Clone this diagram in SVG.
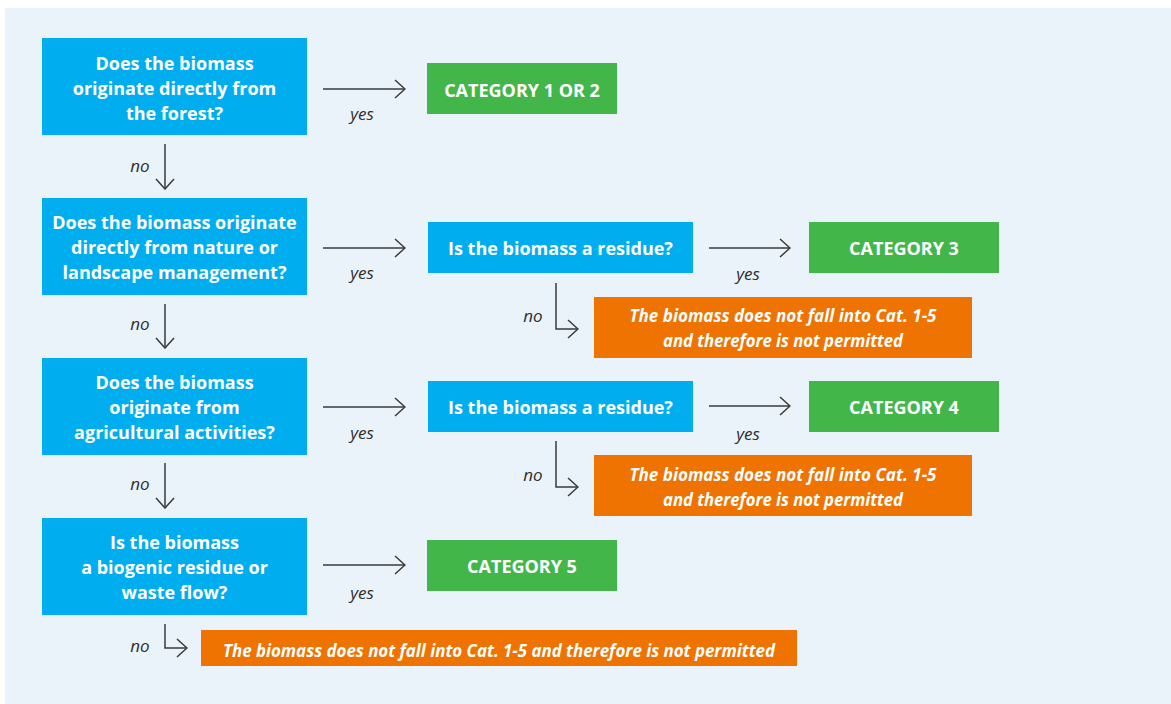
<svg xmlns="http://www.w3.org/2000/svg" width="1171" height="704" viewBox="0 0 1171 704">
<defs>
<marker id="arr" viewBox="0 0 12 20" refX="11" refY="10" markerWidth="12" markerHeight="20" markerUnits="userSpaceOnUse" orient="auto">
<path d="M1,1 L11,10 L1,19" fill="none" stroke="#3a3a3a" stroke-width="1.5"/>
</marker>
<style>
.q{fill:#00AEEF}
.g{fill:#43B649}
.o{fill:#EF7300}
.t{font-family:"Open Sans","Liberation Sans",sans-serif;font-weight:700;font-size:18px;fill:#fff;text-anchor:middle}
.ot{font-family:"Open Sans","Liberation Sans",sans-serif;font-weight:700;font-style:italic;font-size:17px;fill:#fff;text-anchor:middle}
.l{font-family:"Open Sans","Liberation Sans",sans-serif;font-style:italic;font-size:17px;fill:#2e2e2e;text-anchor:middle}
.c{fill:none;stroke:#3a3a3a;stroke-width:1.5;marker-end:url(#arr)}
</style>
</defs>
<rect x="5" y="8" width="1166" height="696" fill="#EAF2FA"/>

<g id="q1"><rect class="q" x="42" y="38" width="265" height="97"/>
<text class="t" x="174.5" y="70">Does the biomass</text>
<text class="t" x="174.5" y="95">originate directly from</text>
<text class="t" x="174.5" y="120">the forest?</text></g>

<g id="q2"><rect class="q" x="42" y="198" width="265" height="97"/>
<text class="t" x="174.5" y="229">Does the biomass originate</text>
<text class="t" x="174.5" y="254">directly from nature or</text>
<text class="t" x="174.5" y="279">landscape management?</text></g>

<g id="q3"><rect class="q" x="42" y="358" width="265" height="97"/>
<text class="t" x="174.5" y="389">Does the biomass</text>
<text class="t" x="174.5" y="414">originate from</text>
<text class="t" x="174.5" y="439">agricultural activities?</text></g>

<g id="q4"><rect class="q" x="42" y="518" width="265" height="97"/>
<text class="t" x="174.5" y="549">Is the biomass</text>
<text class="t" x="174.5" y="574">a biogenic residue or</text>
<text class="t" x="174.5" y="599">waste flow?</text></g>

<g id="cat12"><rect class="g" x="427" y="63" width="190" height="51"/>
<text class="t" x="522" y="97">CATEGORY 1 OR 2</text></g>

<g id="r1"><rect class="q" x="428" y="222" width="265" height="51"/>
<text class="t" x="560.5" y="255">Is the biomass a residue?</text></g>

<g id="cat3"><rect class="g" x="809" y="222" width="190" height="51"/>
<text class="t" x="904" y="255">CATEGORY 3</text></g>

<g id="o1"><rect class="o" x="594" y="297" width="378" height="61"/>
<text class="ot" x="783" y="322" textLength="307" lengthAdjust="spacingAndGlyphs">The biomass does not fall into Cat. 1-5</text>
<text class="ot" x="783" y="347" textLength="240" lengthAdjust="spacingAndGlyphs">and therefore is not permitted</text></g>

<g id="r2"><rect class="q" x="428" y="381" width="265" height="51"/>
<text class="t" x="560.5" y="414">Is the biomass a residue?</text></g>

<g id="cat4"><rect class="g" x="809" y="381" width="190" height="51"/>
<text class="t" x="904" y="414">CATEGORY 4</text></g>

<g id="o2"><rect class="o" x="594" y="455" width="378" height="61"/>
<text class="ot" x="783" y="481" textLength="307" lengthAdjust="spacingAndGlyphs">The biomass does not fall into Cat. 1-5</text>
<text class="ot" x="783" y="506" textLength="240" lengthAdjust="spacingAndGlyphs">and therefore is not permitted</text></g>

<g id="cat5"><rect class="g" x="427" y="540" width="190" height="51"/>
<text class="t" x="522" y="573">CATEGORY 5</text></g>

<g id="o3"><rect class="o" x="201" y="630" width="596" height="36"/>
<text class="ot" x="499" y="657" textLength="552" lengthAdjust="spacingAndGlyphs">The biomass does not fall into Cat. 1-5 and therefore is not permitted</text></g>

<g id="connectors">
<path class="c" d="M323,89 H405"/>
<path class="c" d="M323,248 H405"/>
<path class="c" d="M323,407 H405"/>
<path class="c" d="M323,565 H405"/>
<path class="c" d="M709,248 H790"/>
<path class="c" d="M709,406 H790"/>
<path class="c" d="M165,144 V189"/>
<path class="c" d="M165,304 V348"/>
<path class="c" d="M165,463 V508"/>
<path class="c" d="M556,283 V329 H578"/>
<path class="c" d="M556,441 V487 H578"/>
<path class="c" d="M165,624 V648 H187"/>
<text class="l" x="362" y="120">yes</text>
<text class="l" x="362" y="279">yes</text>
<text class="l" x="362" y="439">yes</text>
<text class="l" x="362" y="599">yes</text>
<text class="l" x="748" y="280">yes</text>
<text class="l" x="748" y="440">yes</text>
<text class="l" x="140" y="172">no</text>
<text class="l" x="140" y="330">no</text>
<text class="l" x="140" y="490">no</text>
<text class="l" x="533" y="322">no</text>
<text class="l" x="533" y="481">no</text>
<text class="l" x="140" y="652">no</text>
</g>
</svg>
